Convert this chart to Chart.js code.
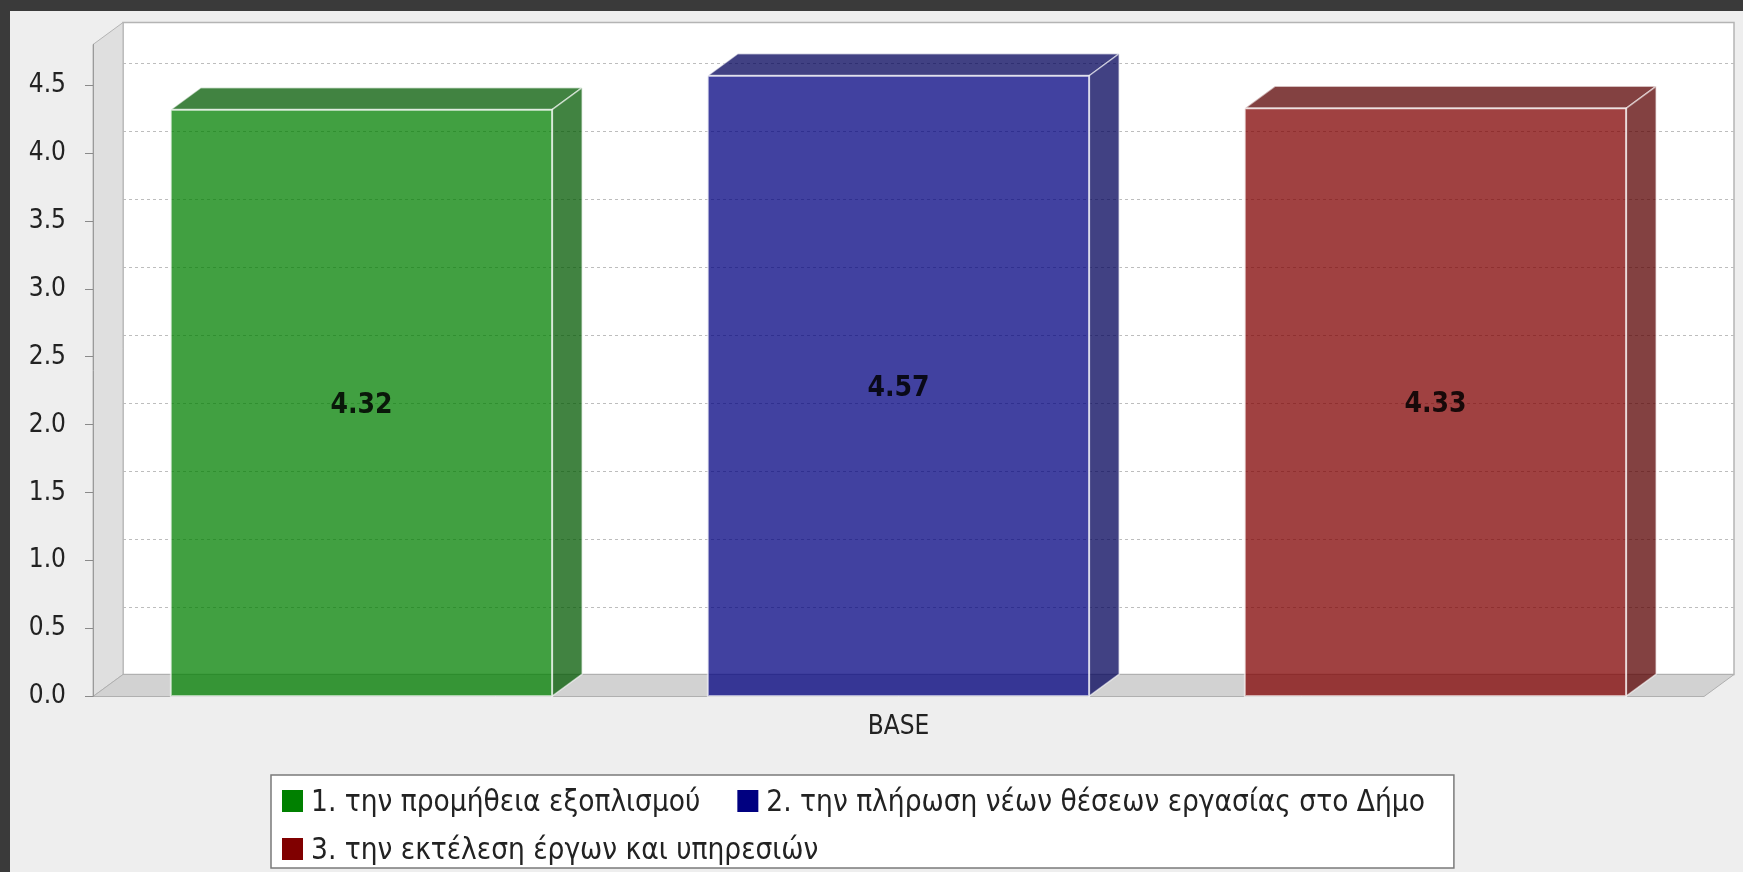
<!DOCTYPE html>
<html>
<head>
<meta charset="utf-8">
<script src="https://cdn.jsdelivr.net/npm/chart.js@4.4.1/dist/chart.umd.min.js"></script>
<style>
  html, body { margin: 0; padding: 0; background: #3a3a3a; overflow: hidden; }
</style>
</head>
<body>
<canvas id="chart" width="1743" height="872"></canvas>
<script>
// data
var categories = ['BASE'];
var seriesNames = [
    '1. την προμήθεια εξοπλισμού',
    '2. την πλήρωση νέων θέσεων εργασίας στο Δήμο',
    '3. την εκτέλεση έργων και υπηρεσιών'
];
var series1 = [4.32];
var series2 = [4.57];
var series3 = [4.33];
var yTicks = [0, 0.5, 1, 1.5, 2, 2.5, 3, 3.5, 4, 4.5];

// styles
var seriesColors = [[0, 128, 0], [0, 0, 128], [128, 0, 0]];
var ALPHA = 0.745;
var DX = 30, DY = 22;   // 3d depth offset
var FONT = '"DejaVu Sans Condensed", "DejaVu Sans", sans-serif';

function rgba(c, a) { return 'rgba(' + c[0] + ',' + c[1] + ',' + c[2] + ',' + a + ')'; }
function darker(c) { return c.map(function (v) { return Math.floor(v * 0.7); }); }

var threeD = {
    id: 'threeD',
    beforeDraw: function (chart) {
        var ctx = chart.ctx, a = chart.chartArea;
        ctx.save();
        ctx.fillStyle = '#3a3a3a';
        ctx.fillRect(0, 0, chart.width, chart.height);
        ctx.fillStyle = '#eeeeee';
        ctx.fillRect(10, 11, chart.width - 10, chart.height - 11);

        // back wall
        ctx.fillStyle = '#ffffff';
        ctx.fillRect(a.left + DX, a.top - DY, a.width, a.height);
        ctx.strokeStyle = '#b4b4b4';
        ctx.lineWidth = 1.5;
        ctx.strokeRect(a.left + DX, a.top - DY, a.width, a.height);

        // grid lines on the back wall
        var ys = chart.scales.y;
        ctx.setLineDash([3, 3]);
        ctx.strokeStyle = '#bdbdbd';
        ctx.lineWidth = 1;
        ys.ticks.forEach(function (t) {
            if (t.value === 0) return;
            var py = Math.round(ys.getPixelForValue(t.value) - DY) + 0.5;
            ctx.beginPath();
            ctx.moveTo(a.left + DX, py);
            ctx.lineTo(a.right + DX, py);
            ctx.stroke();
        });
        ctx.setLineDash([]);

        // left wall
        ctx.fillStyle = '#dfdfdf';
        ctx.beginPath();
        ctx.moveTo(a.left, a.bottom);
        ctx.lineTo(a.left, a.top);
        ctx.lineTo(a.left + DX, a.top - DY);
        ctx.lineTo(a.left + DX, a.bottom - DY);
        ctx.closePath();
        ctx.fill();
        ctx.strokeStyle = '#b4b4b4';
        ctx.stroke();

        // floor
        ctx.fillStyle = '#d2d2d2';
        ctx.beginPath();
        ctx.moveTo(a.left, a.bottom);
        ctx.lineTo(a.left + DX, a.bottom - DY);
        ctx.lineTo(a.right + DX, a.bottom - DY);
        ctx.lineTo(a.right, a.bottom);
        ctx.closePath();
        ctx.fill();
        ctx.strokeStyle = '#b0b0b0';
        ctx.stroke();
        ctx.restore();
    },
    afterDatasetsDraw: function (chart) {
        var ctx = chart.ctx;
        ctx.save();
        chart.data.datasets.forEach(function (ds, i) {
            var meta = chart.getDatasetMeta(i);
            meta.data.forEach(function (bar, j) {
                var p = bar.getProps(['x', 'y', 'base', 'width'], true);
                var l = p.x - p.width / 2, r = p.x + p.width / 2;
                var dk = darker(seriesColors[i]);

                // top face
                ctx.fillStyle = rgba(dk, ALPHA);
                ctx.beginPath();
                ctx.moveTo(l, p.y);
                ctx.lineTo(l + DX, p.y - DY);
                ctx.lineTo(r + DX, p.y - DY);
                ctx.lineTo(r, p.y);
                ctx.closePath();
                ctx.fill();
                ctx.strokeStyle = 'rgba(255,255,255,0.55)';
                ctx.lineWidth = 1.5;
                ctx.stroke();

                // side face
                ctx.beginPath();
                ctx.moveTo(r, p.y);
                ctx.lineTo(r + DX, p.y - DY);
                ctx.lineTo(r + DX, p.base - DY);
                ctx.lineTo(r, p.base);
                ctx.closePath();
                ctx.fill();
                ctx.stroke();

                // front outline
                ctx.strokeStyle = 'rgba(255,255,255,0.6)';
                ctx.lineWidth = 2;
                ctx.strokeRect(l, p.y, p.width, p.base - p.y);

                // value label
                ctx.fillStyle = 'rgba(0,0,0,0.85)';
                ctx.font = 'bold 28px ' + FONT;
                ctx.textAlign = 'center';
                ctx.textBaseline = 'middle';
                ctx.fillText(ds.data[j].toFixed(2), p.x, (p.y + p.base) / 2 + 3);
            });
        });
        ctx.restore();
    },
    afterDraw: function (chart) {
        // legend box below the plot
        var ctx = chart.ctx;
        ctx.save();
        ctx.font = '29.5px ' + FONT;
        ctx.textBaseline = 'middle';
        ctx.textAlign = 'left';
        var boxLeft = 271, boxTop = 775, rowH = 48, pad = 11, sq = 21, gap = 8, itemGap = 37;
        var rows = [[0, 1], [2]];
        var widest = 0;
        rows.forEach(function (row) {
            var w = 0;
            row.forEach(function (k, n) {
                w += sq + gap + ctx.measureText(chart.data.datasets[k].label).width + (n < row.length - 1 ? itemGap : 0);
            });
            widest = Math.max(widest, w);
        });
        var boxW = widest + pad + 29, boxH = 93;
        ctx.fillStyle = '#ffffff';
        ctx.fillRect(boxLeft, boxTop, boxW, boxH);
        ctx.strokeStyle = '#7a7a7a';
        ctx.lineWidth = 1.5;
        ctx.strokeRect(boxLeft, boxTop, boxW, boxH);
        rows.forEach(function (row, ri) {
            var x = boxLeft + pad;
            var cy = boxTop + 26 + ri * rowH;
            row.forEach(function (k) {
                ctx.fillStyle = rgba(seriesColors[k], 1);
                ctx.fillRect(x, cy - 11, sq, 22);
                x += sq + gap;
                ctx.fillStyle = '#222222';
                var label = chart.data.datasets[k].label;
                ctx.fillText(label, x, cy + 2);
                x += ctx.measureText(label).width + itemGap;
            });
        });
        ctx.restore();
    }
};

var allSeries = [series1, series2, series3];

var chart = new Chart(document.getElementById('chart').getContext('2d'), {
    type: 'bar',
    data: {
        labels: categories,
        datasets: seriesNames.map(function (name, i) {
            return {
                label: name,
                data: allSeries[i],
                backgroundColor: rgba(seriesColors[i], ALPHA),
                borderWidth: 0,
                categoryPercentage: 1.0,
                barPercentage: 0.71
            };
        })
    },
    options: {
        responsive: false,
        devicePixelRatio: 1,
        animation: false,
        layout: { padding: { left: 0, top: 44.5, right: 39, bottom: 135.5 } },
        plugins: {
            legend: { display: false },
            tooltip: { enabled: false }
        },
        scales: {
            x: {
                offset: true,
                grid: { display: false, drawTicks: false },
                border: { display: false },
                ticks: { font: { family: FONT, size: 26 }, color: '#222', padding: 15 },
                afterFit: function (s) { s.height = 40; }
            },
            y: {
                min: 0,
                max: 4.8,
                afterBuildTicks: function (s) { s.ticks = yTicks.map(function (v) { return { value: v }; }); },
                ticks: {
                    font: { family: FONT, size: 26 },
                    color: '#222',
                    padding: 19,
                    callback: function (v) { return Number(v).toFixed(1); }
                },
                grid: { drawOnChartArea: false, drawTicks: true, tickLength: 8, color: '#8a8a8a' },
                border: { display: true, color: '#9a9a9a' },
                afterFit: function (s) { s.width = 93; }
            }
        }
    },
    plugins: [threeD]
});
</script>
</body>
</html>
